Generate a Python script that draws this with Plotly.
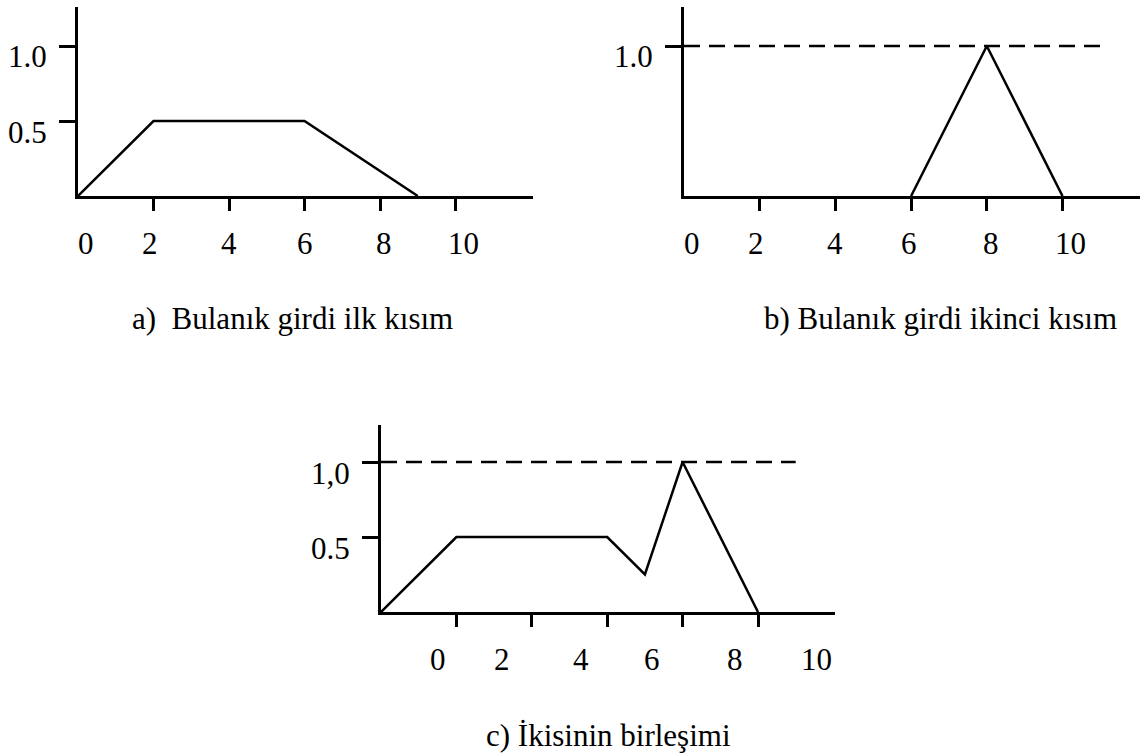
import plotly.graph_objects as go

# ---- data -------------------------------------------------------------
# a) first fuzzy input (trapezoid)
a_x = [0, 2, 6, 9]
a_y = [0, 0.5, 0.5, 0]
# b) second fuzzy input (triangle)
b_x = [6, 8, 10]
b_y = [0, 1.0, 0]
# c) union of the two
c_x = [0, 2, 6, 7, 8, 10]
c_y = [0, 0.5, 0.5, 0.25, 1.0, 0]

x_ticks = [2, 4, 6, 8, 10]
x_tick_text = ["0", "2", "4", "6", "8", "10"]
a_ytick_vals = [0.5, 1.0]
a_ytick_text = ["0.5", "1.0"]
b_ytick_vals = [1.0]
b_ytick_text = ["1.0"]
c_ytick_vals = [0.5, 1.0]
c_ytick_text = ["0.5", "1,0"]
dash_x = [0, 11]
dash_level = 1.0

captions = ["a)  Bulanık girdi ilk kısım",
            "b) Bulanık girdi ikinci kısım",
            "c) İkisinin birleşimi"]

# ---- layout geometry (pixels) ----------------------------------------
W, H = 1145, 753
FONT = "Liberation Serif"
FS = 31
LW = 2.5

# label placement along each x axis (data units)
a_label_pos = [0.2, 1.9, 4.0, 6.0, 8.1, 10.2]
b_label_pos = [0.2, 1.9, 4.0, 5.95, 8.1, 10.2]
c_label_pos = [1.5, 3.2, 5.3, 7.2, 9.4, 11.55]

# panel boxes: (left, right, top, bottom) in px, plus px per x unit / y unit
panels = [
    dict(l=78, r=533, t=7, b=196, ux=37.75, uy=150),
    dict(l=684, r=1140, t=7, b=196, ux=37.85, uy=150),
    dict(l=381, r=835, t=425, b=612, ux=37.7, uy=150),
]

fig = go.Figure()

line_style = dict(color="black", width=LW)

fig.add_trace(go.Scatter(x=a_x, y=a_y, mode="lines", line=line_style,
                         xaxis="x", yaxis="y", cliponaxis=False, showlegend=False))
fig.add_trace(go.Scatter(x=dash_x, y=[dash_level] * 2, mode="lines",
                         line=dict(color="black", width=LW, dash="16px,9px"),
                         xaxis="x2", yaxis="y2", cliponaxis=False, showlegend=False))
fig.add_trace(go.Scatter(x=b_x, y=b_y, mode="lines", line=line_style,
                         xaxis="x2", yaxis="y2", cliponaxis=False, showlegend=False))
fig.add_trace(go.Scatter(x=dash_x, y=[dash_level] * 2, mode="lines",
                         line=dict(color="black", width=LW, dash="16px,9px"),
                         xaxis="x3", yaxis="y3", cliponaxis=False, showlegend=False))
fig.add_trace(go.Scatter(x=c_x, y=c_y, mode="lines", line=line_style,
                         xaxis="x3", yaxis="y3", cliponaxis=False, showlegend=False))

yticks = [(a_ytick_vals, a_ytick_text), (b_ytick_vals, b_ytick_text),
          (c_ytick_vals, c_ytick_text)]
label_pos = [a_label_pos, b_label_pos, c_label_pos]

annotations = []
for i, p in enumerate(panels):
    sx = "" if i == 0 else str(i + 1)
    xr = (p["r"] - p["l"]) / p["ux"]
    yr = (p["b"] - p["t"]) / p["uy"]
    fig.layout["xaxis" + sx] = dict(
        domain=[p["l"] / W, p["r"] / W], range=[0, xr], anchor="y" + sx,
        showgrid=False, zeroline=False, showline=True, linecolor="black",
        linewidth=LW, ticks="outside", ticklen=12, tickwidth=LW,
        tickcolor="black", tickvals=x_ticks, showticklabels=False,
        fixedrange=True)
    fig.layout["yaxis" + sx] = dict(
        domain=[1 - p["b"] / H, 1 - p["t"] / H], range=[0, yr], anchor="x" + sx,
        showgrid=False, zeroline=False, showline=True, linecolor="black",
        linewidth=LW, ticks="outside", ticklen=16, tickwidth=LW,
        tickcolor="black", tickvals=yticks[i][0], showticklabels=False,
        fixedrange=True)
    # x tick labels
    for xv, txt in zip(label_pos[i], x_tick_text):
        annotations.append(dict(
            x=xv, y=0, xref="x" + sx, yref="y" + sx, text=txt,
            showarrow=False, xanchor="center", yanchor="middle",
            yshift=-47, font=dict(family=FONT, size=FS, color="black")))
    # y tick labels
    for yv, txt in zip(*yticks[i]):
        annotations.append(dict(
            x=0, y=yv, xref="x" + sx, yref="y" + sx, text=txt,
            showarrow=False, xanchor="right", yanchor="middle",
            xshift=-29, yshift=-11,
            font=dict(family=FONT, size=FS, color="black")))

caption_pos = [(292, 318), (940, 318), (608, 735)]
for txt, (cx, cy) in zip(captions, caption_pos):
    annotations.append(dict(
        x=cx / W, y=1 - cy / H, xref="paper", yref="paper", text=txt,
        showarrow=False, xanchor="center", yanchor="middle",
        font=dict(family=FONT, size=FS, color="black")))

fig.update_layout(
    width=W, height=H, margin=dict(l=0, r=0, t=0, b=0),
    paper_bgcolor="white", plot_bgcolor="white",
    annotations=annotations, showlegend=False,
    font=dict(family=FONT, size=FS, color="black"),
)

fig.write_html("out.html", config={"displayModeBar": False})
